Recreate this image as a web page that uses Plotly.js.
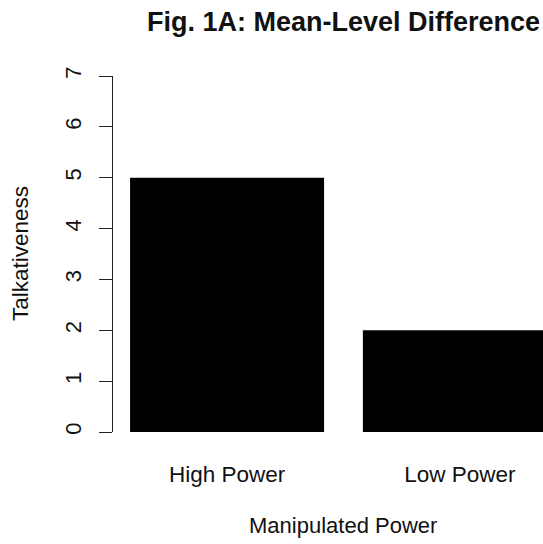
<!DOCTYPE html>
<html>
<head>
<meta charset="utf-8">
<script src="https://cdn.plot.ly/plotly-3.0.1.min.js"></script>
<style>html,body{margin:0;padding:0;background:#fff;overflow:hidden;}</style>
</head>
<body>
<div id="chart" style="width:543px;height:544px;"></div>
<script>
const categories = ["High Power", "Low Power"];
const talkativeness = [5, 2];
const yTicks = [0, 1, 2, 3, 4, 5, 6, 7];
const titleText = "Fig. 1A: Mean-Level Difference";
const xTitle = "Manipulated Power";
const yTitle = "Talkativeness";

// R barplot positions: width 1, space 0.2
const xPos = categories.map((c, i) => 0.7 + i * 1.2);

const font = {family: "Liberation Sans, Arial, Helvetica, sans-serif", color: "#111"};

const trace = {
  type: "bar",
  x: xPos,
  y: talkativeness,
  width: 1,
  marker: {color: "#000000", line: {color: "#000000", width: 0}},
  hoverinfo: "skip"
};

const layout = {
  width: 543,
  height: 544,
  margin: {l: 113, r: 0, t: 76, b: 112, pad: 0},
  paper_bgcolor: "#ffffff",
  plot_bgcolor: "#ffffff",
  showlegend: false,
  font: Object.assign({size: 22}, font),
  xaxis: {
    range: [0.112, 2.3285],
    tickvals: xPos,
    ticktext: categories,
    ticks: "",
    showline: false,
    showgrid: false,
    zeroline: false,
    ticklabelstandoff: 26,
    tickfont: Object.assign({size: 22.5}, font),
    fixedrange: true
  },
  yaxis: {
    range: [0, 7],
    tickvals: yTicks,
    ticktext: yTicks.map(String),
    ticks: "outside",
    ticklen: 13,
    tickwidth: 1,
    tickcolor: "#222",
    showline: true,
    linecolor: "#222",
    linewidth: 1,
    showgrid: false,
    zeroline: false,
    tickangle: -90,
    ticklabelstandoff: 9,
    tickfont: Object.assign({size: 22}, font),
    fixedrange: true
  },
  annotations: [
    {text: "<b>" + titleText + "</b>", xref: "x", yref: "paper", x: 1.3, y: 1 + (76 - 22) / 356,
     xanchor: "center", yanchor: "middle", showarrow: false, font: Object.assign({size: 27}, font)},
    {text: xTitle, xref: "x", yref: "paper", x: 1.3, y: -(525 - 432) / 356,
     xanchor: "center", yanchor: "middle", showarrow: false, font: Object.assign({size: 22}, font)},
    {text: yTitle, xref: "paper", yref: "paper", x: -(113 - 20) / 430, y: 0.5, textangle: -90,
     xanchor: "center", yanchor: "middle", showarrow: false, font: Object.assign({size: 22.5}, font)}
  ]
};

Plotly.newPlot("chart", [trace], layout, {displayModeBar: false, staticPlot: true});
</script>
</body>
</html>
